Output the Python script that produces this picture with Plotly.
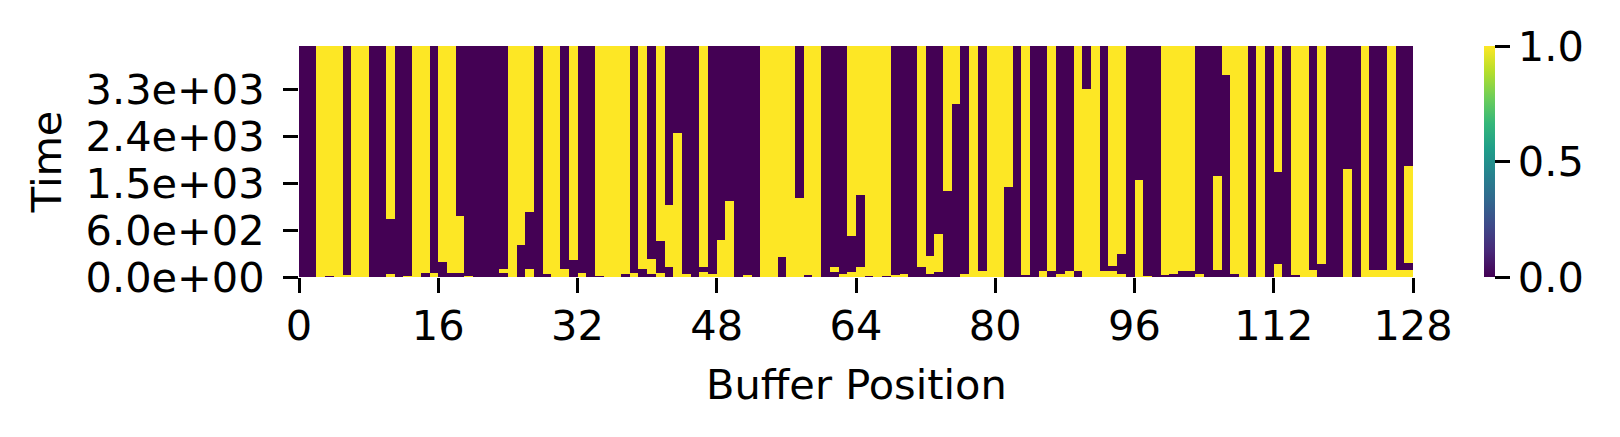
import numpy as np
import plotly.graph_objects as go

# ---------------- data ----------------
n_positions = 128          # buffer positions (columns)
n_time_rows = 247          # time samples (rows)

# state of each buffer position at the first time sample (0/1)
initial_state = [
    0, 0, 1, 0, 1, 1, 1, 1, 0, 0, 1, 0, 1, 1, 0, 1,
    0, 0, 0, 1, 0, 0, 0, 0, 1, 0, 1, 0, 0, 1, 1, 0,
    1, 0, 0, 1, 1, 0, 1, 0, 0, 1, 0, 1, 1, 0, 1, 1,
    1, 1, 0, 1, 0, 1, 1, 0, 1, 1, 0, 1, 0, 0, 1, 1,
    1, 0, 1, 0, 1, 1, 0, 0, 0, 0, 0, 0, 1, 1, 1, 1,
    1, 0, 0, 0, 0, 1, 0, 1, 1, 0, 1, 1, 1, 1, 1, 0,
    1, 1, 0, 0, 0, 0, 0, 1, 0, 0, 0, 0, 1, 0, 1, 0,
    1, 0, 0, 1, 1, 0, 0, 0, 1, 0, 1, 1, 1, 1, 1, 1,
]

# time-sample rows at which each buffer position flips its state
flip_rows = [
    [], [], [], [1], [], [2], [], [], [], [], [3, 62], [], [1], [], [4], [4],
    [16], [4], [4, 65], [1], [], [], [], [4, 9], [], [34], [9, 69], [], [3], [], [9], [18],
    [4], [], [1], [], [], [3], [4], [9], [3, 19], [4, 38], [11, 77], [154], [3], [], [5, 11], [3],
    [40], [81], [], [2], [], [], [], [21], [], [85], [2], [], [], [5, 11], [3], [5, 44],
    [11, 88], [1], [], [1], [2], [3], [], [11], [3, 22], [5, 46], [92], [185], [3], [], [6], [],
    [], [96], [], [2], [], [6], [6], [3], [6], [6], [201], [], [6], [6, 12], [3, 25], [],
    [104], [1], [], [2], [3], [6], [6], [3], [], [7, 108], [216], [3], [], [], [], [],
    [14, 112], [], [2], [], [7], [14], [], [], [115], [], [], [7], [7], [], [7], [7, 15, 119],
]

x_tick_values = [0, 16, 32, 48, 64, 80, 96, 112, 128]
time_tick_rows = [0, 50, 100, 150, 200]
time_tick_labels = ["0.0e+00", "6.0e+02", "1.5e+03", "2.4e+03", "3.3e+03"]
colorbar_ticks = [0.0, 0.5, 1.0]
colorbar_labels = ["0.0", "0.5", "1.0"]

# ---------------- build matrix ----------------
z = np.zeros((n_time_rows, n_positions))
for col in range(n_positions):
    state = initial_state[col]
    flips = set(flip_rows[col])
    for row in range(n_time_rows):
        if row in flips:
            state = 1 - state
        z[row, col] = state

FONT = "DejaVu Sans"
FS = 41.5

fig = go.Figure(
    go.Heatmap(
        z=z,
        x=np.arange(n_positions) + 0.5,
        y=np.arange(n_time_rows) + 0.5,
        colorscale="Viridis",
        zmin=0,
        zmax=1,
        colorbar=dict(
            x=1.0637, xanchor="left", xref="paper",
            y=0.5, yanchor="middle", len=1, lenmode="fraction",
            thickness=11, xpad=0, ypad=0, outlinewidth=0,
            ticks="outside", ticklen=15, tickwidth=3.3, tickcolor="black",
            tickvals=colorbar_ticks, ticktext=colorbar_labels,
            tickfont=dict(family=FONT, size=FS, color="black"),
        ),
    )
)

axis_common = dict(
    showgrid=False, zeroline=False, showline=False,
    ticks="outside", ticklen=15, tickwidth=3.3, tickcolor="black",
    tickfont=dict(family=FONT, size=FS, color="black"),
    automargin=False,
)

fig.update_layout(
    width=1612, height=429,
    margin=dict(l=291, r=207, t=38, b=160),
    paper_bgcolor="white", plot_bgcolor="white",
    xaxis=dict(range=[0, n_positions], tickvals=x_tick_values,
               ticklabelstandoff=-3, **axis_common),
    yaxis=dict(range=[0, n_time_rows], tickvals=time_tick_rows,
               ticktext=time_tick_labels, ticklabelstandoff=10, **axis_common),
    annotations=[
        dict(text="Buffer Position", xref="paper", yref="paper", x=0.5, y=-0.4675,
             xanchor="center", yanchor="middle", showarrow=False,
             font=dict(family=FONT, size=FS, color="black")),
        dict(text="Time", xref="paper", yref="paper", x=-0.2265, y=0.5,
             xanchor="center", yanchor="middle", textangle=-90, showarrow=False,
             font=dict(family=FONT, size=FS, color="black")),
    ],
)

fig.write_html("out.html")
